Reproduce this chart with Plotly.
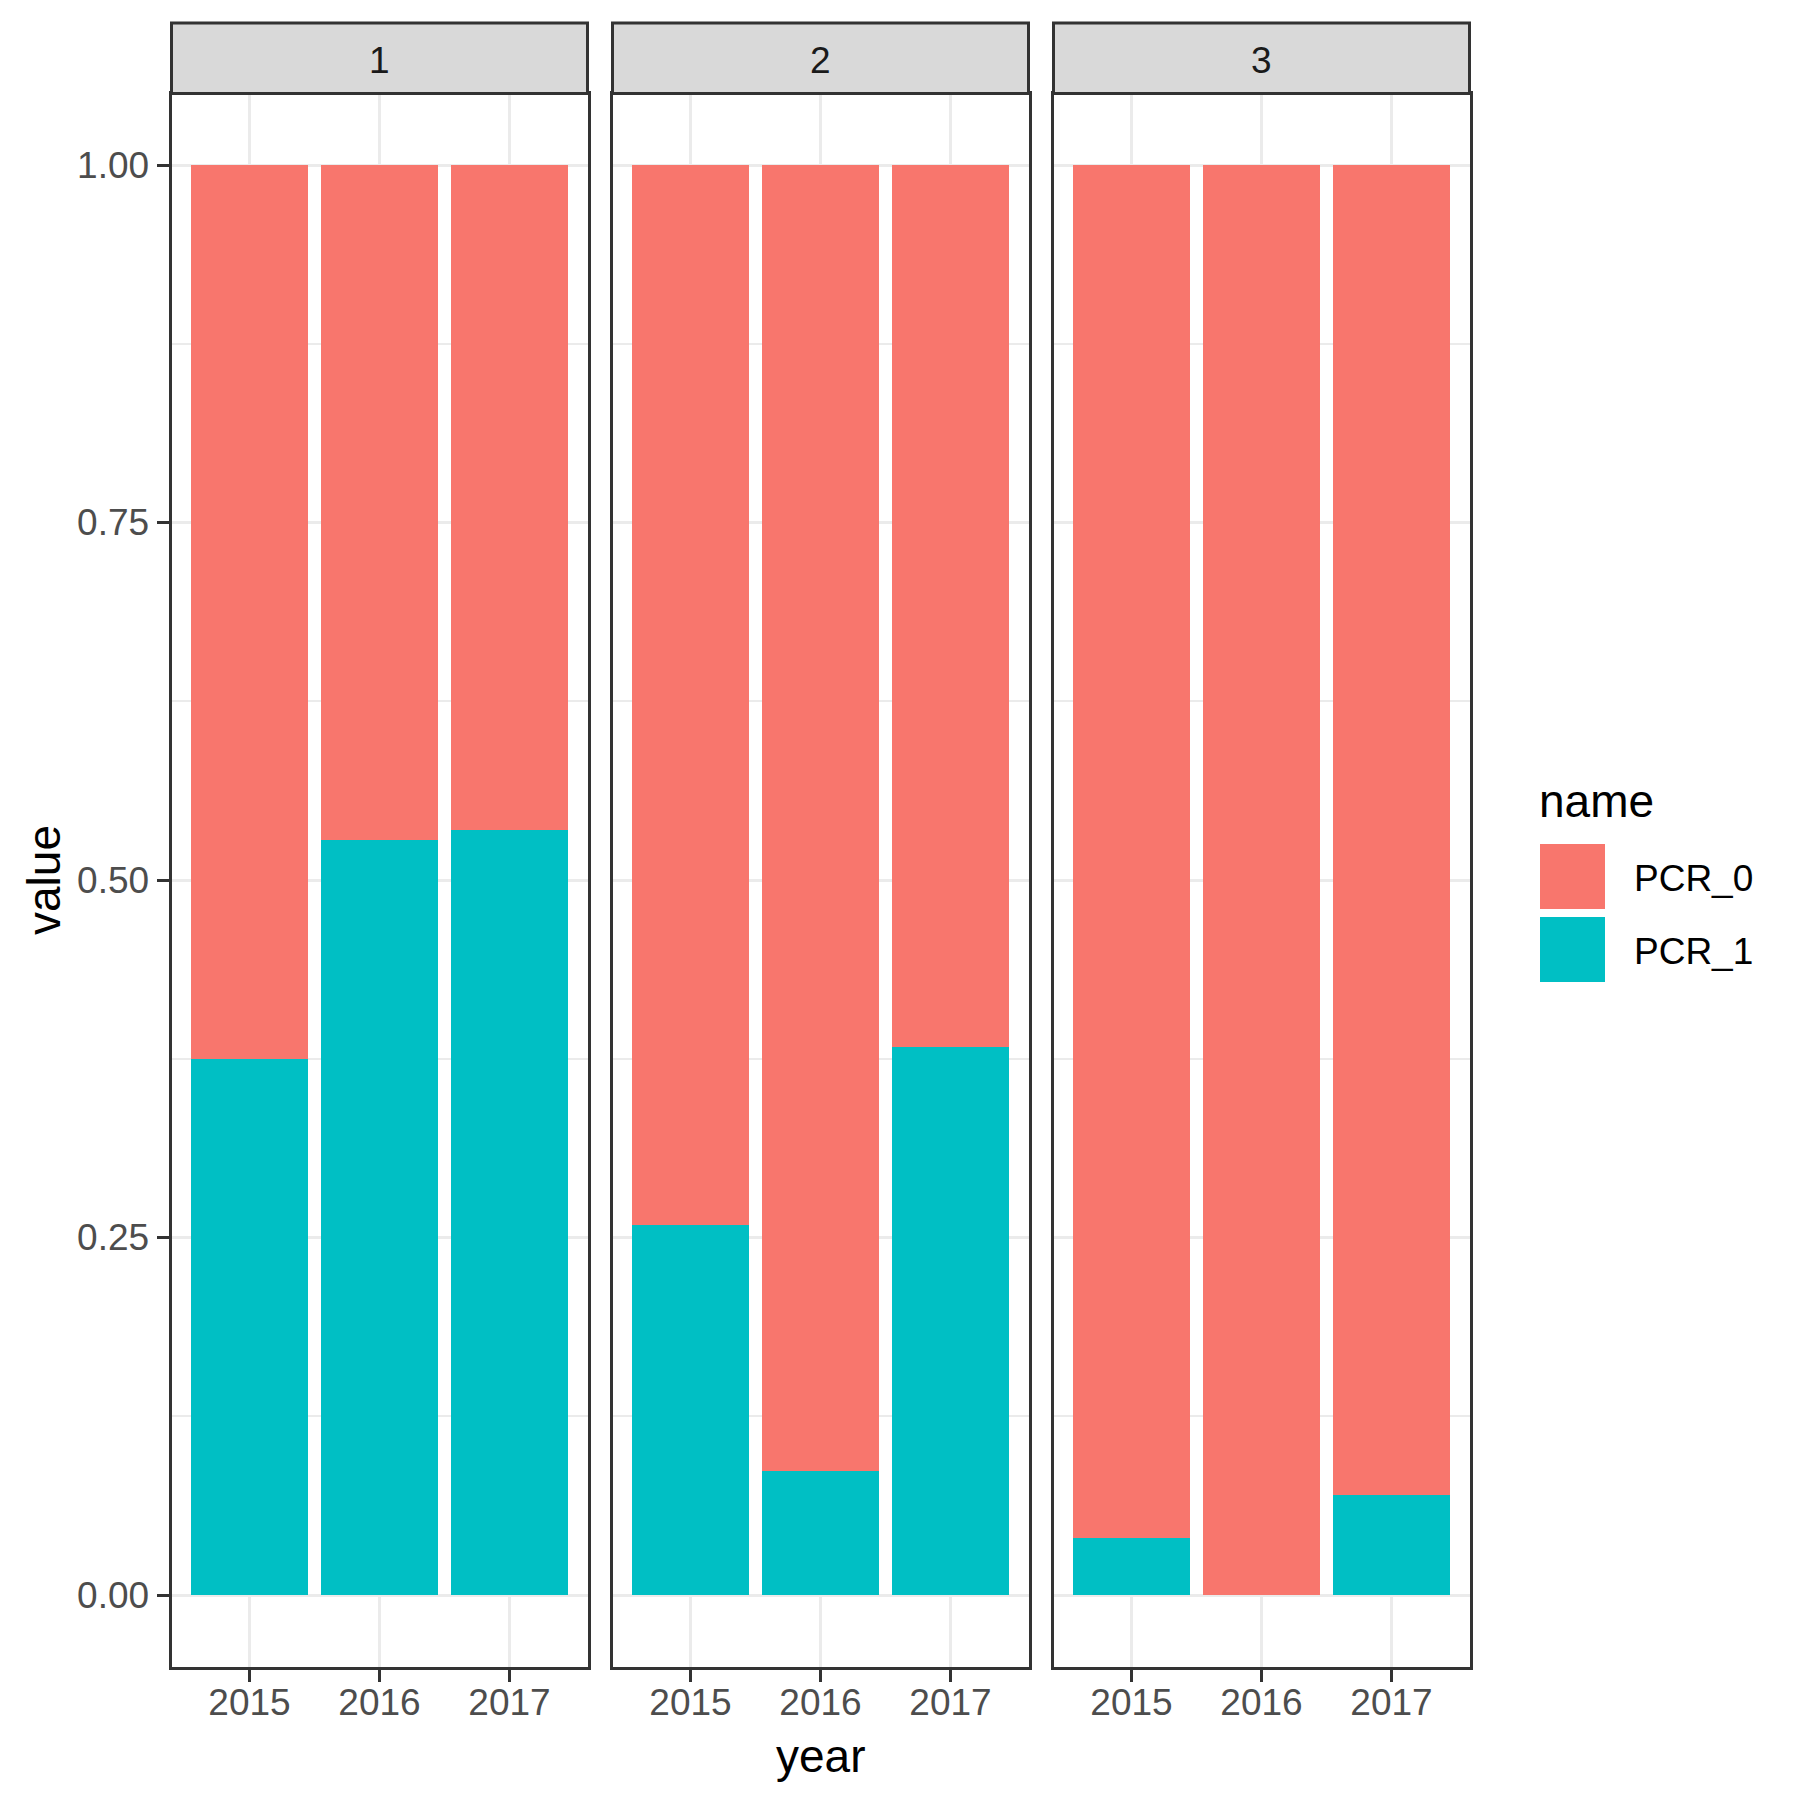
import plotly.graph_objects as go

# ---- data ----
years = ["2015", "2016", "2017"]
facets = ["1", "2", "3"]
pcr_0 = [[0.625, 0.472, 0.465],
         [0.741, 0.9135, 0.617],
         [0.960, 1.000, 0.930]]
pcr_1 = [[0.375, 0.528, 0.535],
         [0.259, 0.0865, 0.383],
         [0.040, 0.000, 0.070]]
series_names = ["PCR_0", "PCR_1"]
y_tickvals = [0.0, 0.25, 0.5, 0.75, 1.0]
y_ticktext = ["0.00", "0.25", "0.50", "0.75", "1.00"]

colors = {"PCR_0": "#F8766D", "PCR_1": "#00BFC4"}
FONT = "Liberation Sans, Arial, sans-serif"
W = H = 1800
OFF = 8  # default page body margin in the browser


def px(v):
    return (v - OFF) / W


def py(v):
    return 1 - (v - OFF) / H


# panel geometry (page pixels)
panel_left = [171.5, 612.5, 1053.5]
panel_w = 416
panel_top, panel_bot = 93.5, 1666.5
strip_top = 23

fig = go.Figure()
series_vals = {"PCR_0": pcr_0, "PCR_1": pcr_1}

for i, f in enumerate(facets):
    xa = "x" if i == 0 else f"x{i+1}"
    ya = "y" if i == 0 else f"y{i+1}"
    # bottom of stack first: PCR_1, then PCR_0
    for s in ["PCR_1", "PCR_0"]:
        fig.add_trace(go.Bar(
            x=years, y=series_vals[s][i], name=s,
            marker=dict(color=colors[s], line=dict(width=0)),
            xaxis=xa, yaxis=ya, showlegend=False, hoverinfo="x+y+name",
        ))

layout = dict(
    width=W, height=H,
    margin=dict(l=0, r=0, t=0, b=0),
    paper_bgcolor="white", plot_bgcolor="white",
    barmode="stack", bargap=0.1,
    font=dict(family=FONT, size=37, color="#4D4D4D"),
    showlegend=False,
)

shapes = []
annotations = []
for i, f in enumerate(facets):
    sx = "" if i == 0 else str(i + 1)
    x0, x1 = px(panel_left[i]), px(panel_left[i] + panel_w)
    layout[f"xaxis{sx}"] = dict(
        domain=[x0, x1], anchor=f"y{sx}", type="category",
        categoryorder="array", categoryarray=years,
        range=[-0.6, 2.6],
        showgrid=True, gridcolor="#EBEBEB", gridwidth=3,
        showline=True, linecolor="#333333", linewidth=3, mirror=True,
        ticks="outside", ticklen=12, tickwidth=3, tickcolor="#333333",
        ticklabelstandoff=-11,
        tickfont=dict(family=FONT, size=37, color="#4D4D4D"),
        zeroline=False, fixedrange=True,
    )
    layout[f"yaxis{sx}"] = dict(
        domain=[py(panel_bot), py(panel_top)], anchor=f"x{sx}",
        range=[-0.05, 1.05],
        tickvals=y_tickvals, ticktext=y_ticktext,
        showticklabels=(i == 0),
        ticks="outside" if i == 0 else "", ticklen=12, tickwidth=3,
        tickcolor="#333333",
        tickfont=dict(family=FONT, size=37, color="#4D4D4D"),
        showgrid=True, gridcolor="#EBEBEB", gridwidth=3,
        minor=dict(dtick=0.125, tick0=0, showgrid=True,
                   gridcolor="#EBEBEB", gridwidth=1.6, ticks=""),
        showline=True, linecolor="#333333", linewidth=3, mirror=True,
        zeroline=False, fixedrange=True,
    )
    # strip
    shapes.append(dict(type="rect", xref="paper", yref="paper",
                       x0=x0, x1=x1, y0=py(panel_top), y1=py(strip_top),
                       fillcolor="#D9D9D9",
                       line=dict(color="#333333", width=3), layer="above"))
    annotations.append(dict(text=f, xref="paper", yref="paper",
                            x=(x0 + x1) / 2, y=py((strip_top + panel_top) / 2 + 2),
                            xanchor="center", yanchor="middle", showarrow=False,
                            font=dict(family=FONT, size=37, color="#1A1A1A")))

# axis titles
annotations.append(dict(text="year", xref="paper", yref="paper",
                        x=px((panel_left[0] + panel_left[2] + panel_w) / 2),
                        y=py(1756), xanchor="center", yanchor="middle",
                        showarrow=False,
                        font=dict(family=FONT, size=46, color="black")))
annotations.append(dict(text="value", xref="paper", yref="paper",
                        x=px(44), y=py((panel_top + panel_bot) / 2),
                        xanchor="center", yanchor="middle", textangle=-90,
                        showarrow=False,
                        font=dict(family=FONT, size=46, color="black")))

# legend (drawn manually to match ggplot key size)
leg_x = 1540
key = 65
annotations.append(dict(text="name", xref="paper", yref="paper",
                        x=px(leg_x - 3), y=py(801), xanchor="left", yanchor="middle",
                        showarrow=False,
                        font=dict(family=FONT, size=46, color="black")))
key_tops = [844, 917]
for s, kt in zip(series_names, key_tops):
    shapes.append(dict(type="rect", xref="paper", yref="paper",
                       x0=px(leg_x), x1=px(leg_x + key),
                       y0=py(kt + key), y1=py(kt),
                       fillcolor=colors[s], line=dict(width=0)))
    annotations.append(dict(text=s, xref="paper", yref="paper",
                            x=px(1632), y=py(kt + key / 2 + 2),
                            xanchor="left", yanchor="middle", showarrow=False,
                            font=dict(family=FONT, size=37, color="black")))

layout["shapes"] = shapes
layout["annotations"] = annotations
fig.update_layout(**layout)
fig.write_html("out.html")
